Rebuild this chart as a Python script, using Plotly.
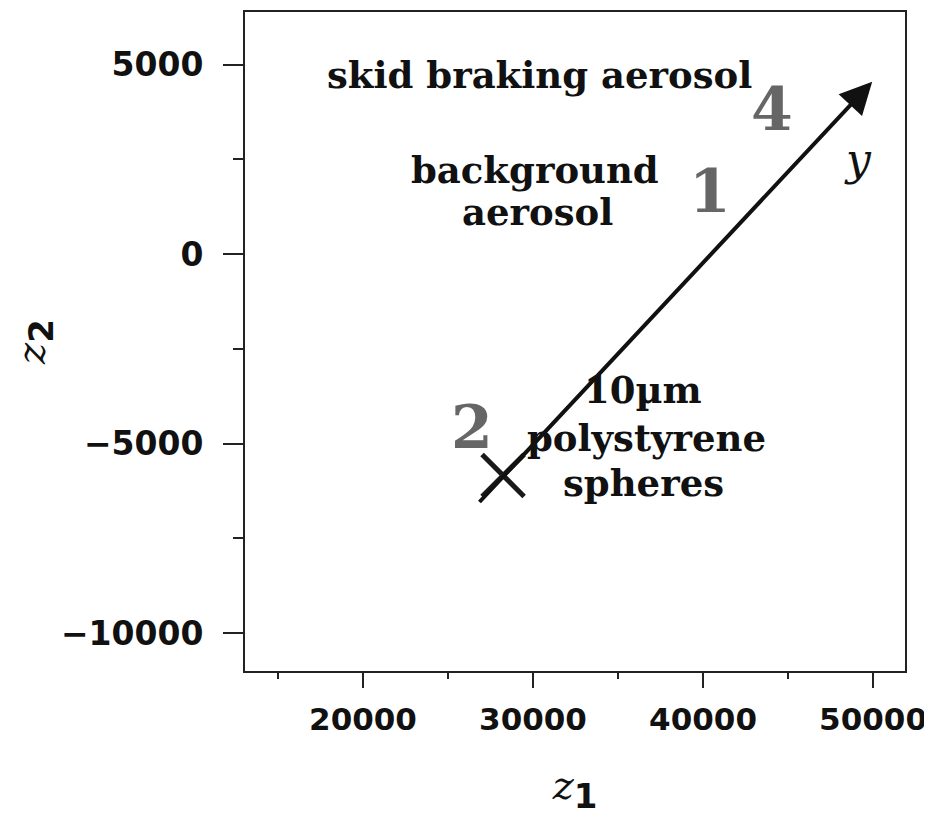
import plotly.graph_objects as go

# ---- data ----
x_range = [13060, 51880]
y_range = [-11000, 6390]
x_major_ticks = [20000, 30000, 40000, 50000]
y_major_ticks = [-10000, -5000, 0, 5000]
x_tick_text = [str(v).replace("-", "\u2212") for v in x_major_ticks]
y_tick_text = [str(v).replace("-", "\u2212") for v in y_major_ticks]

cross_x = [28240]
cross_y = [-5840]

arrow_start = (26770, -6580)
arrow_end = (49950, 4550)

region_labels = ["4", "1", "2"]
region_x = [44060, 40410, 26410]
region_y = [3820, 1660, -4550]

text_lines = ["skid braking aerosol", "background", "aerosol", "10µm", "polystyrene", "spheres"]
text_x = [30410, 30120, 30290, 36470, 36650, 36470]
text_y = [4740, 2210, 1100, -3580, -4840, -6030]

y_label_x = 49120
y_label_y = 2500

fig = go.Figure()

fig.add_trace(go.Scatter(
    x=cross_x, y=cross_y, mode="markers",
    marker=dict(symbol="x-thin", size=42, line=dict(width=5, color="#1a1a1a"), color="#1a1a1a"),
    showlegend=False, hoverinfo="skip"))

annotations = []
annotations.append(dict(
    x=arrow_end[0], y=arrow_end[1], ax=arrow_start[0], ay=arrow_start[1],
    xref="x", yref="y", axref="x", ayref="y", text="",
    showarrow=True, arrowhead=2, arrowsize=1.6, arrowwidth=4, arrowcolor="#111111"))

for t, x, y in zip(region_labels, region_x, region_y):
    annotations.append(dict(x=x, y=y, xref="x", yref="y", text="<b>%s</b>" % t, showarrow=False,
                            font=dict(family="DejaVu Serif", size=60, color="#666666")))

for t, x, y in zip(text_lines, text_x, text_y):
    annotations.append(dict(x=x, y=y, xref="x", yref="y", text="<b>%s</b>" % t, showarrow=False,
                            font=dict(family="DejaVu Serif", size=37, color="#111111"),
                            align="center"))

annotations.append(dict(x=y_label_x, y=y_label_y, xref="x", yref="y", text="<i>y</i>", showarrow=False,
                        font=dict(family="DejaVu Serif", size=44, color="#111111")))

sub_style = "font-family:DejaVu Sans;font-weight:bold;font-size:34px"

fig.update_layout(
    width=924, height=810,
    margin=dict(l=237, r=27, t=2, b=147),
    paper_bgcolor="white", plot_bgcolor="white",
    annotations=annotations,
    xaxis=dict(range=x_range, tickvals=x_major_ticks, ticktext=x_tick_text,
               ticks="outside", ticklen=15, tickwidth=2,
               tickcolor="#222", showline=True, linecolor="#222", linewidth=2, mirror=True,
               showgrid=False, zeroline=False,
               minor=dict(dtick=5000, tick0=0, ticks="outside", ticklen=6, tickwidth=2, tickcolor="#222", showgrid=False),
               tickfont=dict(family="DejaVu Sans", size=31, color="#111", weight="bold"),
               ticklabelstandoff=5,
               title=dict(text="<i>z</i><sub><span style='%s'>1</span></sub>" % sub_style,
                          font=dict(family="DejaVu Serif", size=40, color="#111"), standoff=35)),
    yaxis=dict(range=y_range, tickvals=y_major_ticks, ticktext=y_tick_text,
               ticks="outside", ticklen=20, tickwidth=2,
               tickcolor="#222", showline=True, linecolor="#222", linewidth=2, mirror=True,
               showgrid=False, zeroline=False,
               minor=dict(dtick=2500, tick0=0, ticks="outside", ticklen=10, tickwidth=2, tickcolor="#222", showgrid=False),
               tickfont=dict(family="DejaVu Sans", size=33, color="#111", weight="bold"),
               ticklabelstandoff=13,
               title=dict(text="<i>z</i><sub><span style='%s'>2</span></sub>" % sub_style,
                          font=dict(family="DejaVu Serif", size=40, color="#111"), standoff=4)),
)

fig.write_html("out.html")
